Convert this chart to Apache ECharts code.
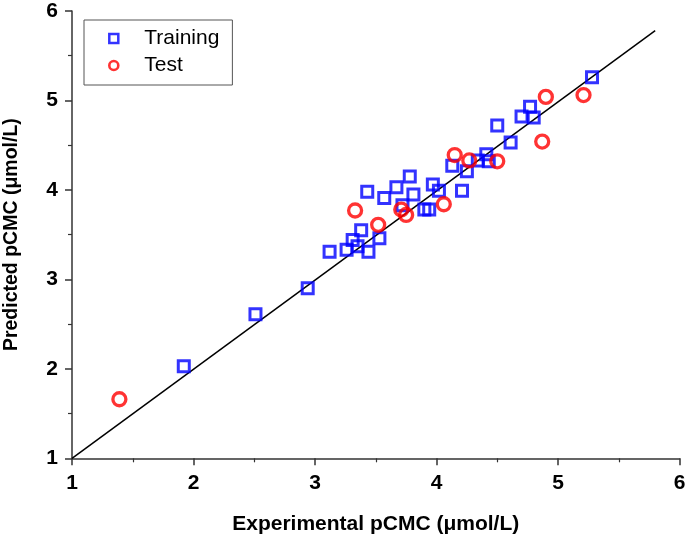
<!DOCTYPE html>
<html>
<head>
    <meta charset="UTF-8">
    <title>pCMC</title>
    <script src="https://cdn.jsdelivr.net/npm/echarts/dist/echarts.min.js"></script>
    <style>
        html, body { margin: 0; padding: 0; background: #fff; }
        #chart { width: 685px; height: 535px; }
    </style>
</head>
<body>
    <div id="chart"></div>
    <script type="text/javascript">
        // experimental vs predicted pCMC
        var trainingExp = [1.92, 2.51, 2.94, 3.12, 3.26, 3.31, 3.35, 3.38, 3.44, 3.53, 3.43, 3.57, 3.67, 3.78, 3.81, 3.90, 3.94, 3.97, 4.02, 4.21, 4.13, 4.25, 4.34, 4.41, 4.43, 4.50, 4.61, 4.70, 4.77, 4.80, 5.28, 3.72];
        var trainingPred = [2.03, 2.61, 2.90, 3.31, 3.33, 3.44, 3.37, 3.55, 3.31, 3.46, 3.98, 3.91, 4.03, 4.15, 3.95, 3.78, 3.78, 4.06, 3.99, 3.99, 4.27, 4.21, 4.33, 4.40, 4.32, 4.72, 4.53, 4.82, 4.93, 4.81, 5.26, 3.83];
        var testExp = [1.39, 3.33, 3.52, 3.71, 3.75, 4.06, 4.15, 4.27, 4.50, 4.87, 4.90, 5.21];
        var testPred = [1.66, 3.77, 3.61, 3.78, 3.72, 3.84, 4.39, 4.33, 4.32, 4.54, 5.04, 5.06];
        var fitLine = [[1, 1], [5.8, 5.78]];
        var seriesNames = ['Training', 'Test'];

        function pairs(xs, ys) {
            var out = [];
            for (var i = 0; i < xs.length; i++) out.push([xs[i], ys[i]]);
            return out;
        }

        var axisCommon = {
            type: 'value',
            min: 1,
            max: 6,
            interval: 1,
            nameLocation: 'middle',
            nameTextStyle: { fontFamily: 'Liberation Sans', fontWeight: 'bold', fontSize: 21, color: '#000' },
            axisLine: { show: true, lineStyle: { color: '#333', width: 1.5 } },
            axisTick: { show: true, inside: false, length: 7, lineStyle: { color: '#333', width: 1.5 } },
            minorTick: { show: true, splitNumber: 2, length: 4, lineStyle: { color: '#333', width: 1.2 } },
            splitLine: { show: false },
            axisLabel: { fontFamily: 'Liberation Sans', fontWeight: 'bold', fontSize: 21, color: '#000', margin: 14 }
        };

        var myChart = echarts.init(document.getElementById('chart'));
        var option = {
            animation: false,
            backgroundColor: '#fff',
            grid: { left: 72, right: 5.5, top: 11, bottom: 76.7, outerBoundsMode: 'none' },
            legend: {
                orient: 'vertical',
                left: 84,
                top: 20,
                padding: [8, 13, 9, 24],
                itemGap: 6,
                itemWidth: 9,
                itemHeight: 9,
                borderColor: '#555',
                borderWidth: 1,
                data: [
                    { name: seriesNames[0], itemStyle: { borderWidth: 2.5 } },
                    { name: seriesNames[1], itemStyle: { borderWidth: 2.6 } }
                ],
                textStyle: { fontFamily: 'Liberation Sans', fontSize: 21, color: '#000', lineHeight: 20, padding: [0, 0, 0, 21] }
            },
            xAxis: Object.assign({}, axisCommon, { name: 'Experimental pCMC (μmol/L)', nameGap: 55 }),
            yAxis: Object.assign({}, axisCommon, {
                name: 'Predicted pCMC (μmol/L)',
                nameGap: 50,
                nameTextStyle: Object.assign({}, axisCommon.nameTextStyle, { fontSize: 19.5 })
            }),
            series: [
                {
                    type: 'line',
                    data: fitLine,
                    showSymbol: false,
                    symbol: 'none',
                    lineStyle: { color: '#000', width: 1.5 },
                    silent: true,
                    z: 1
                },
                {
                    name: seriesNames[0],
                    type: 'scatter',
                    data: pairs(trainingExp, trainingPred),
                    symbol: 'rect',
                    symbolSize: 11,
                    itemStyle: { color: 'rgba(0,0,0,0)', borderColor: '#0000ff', borderWidth: 3 },
                    z: 2
                },
                {
                    name: seriesNames[1],
                    type: 'scatter',
                    data: pairs(testExp, testPred),
                    symbol: 'circle',
                    symbolSize: 13,
                    itemStyle: { color: 'rgba(0,0,0,0)', borderColor: '#ff0000', borderWidth: 3.3 },
                    z: 3
                }
            ]
        };
        myChart.setOption(option);
    </script>
</body>
</html>
